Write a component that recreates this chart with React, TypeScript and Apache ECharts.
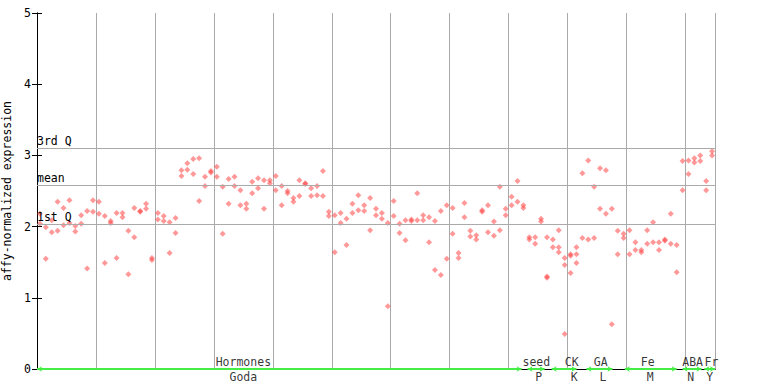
import React, { useEffect, useRef } from "react";
import * as echarts from "echarts";

// replicate values per sample column (115 columns)
const rep1 = [
  2.18, 1.55, 1.92, 2.35, 2.26, 2.37, 2.01, 2.16, 2.22, 2.37,
  2.35, 2.15, 2.08, 2.19, 2.19, 1.94, 2.26, 2.22, 2.32, 1.56,
  2.19, 2.15, 2.06, 2.12, 2.79, 2.89, 2.95, 2.96, 2.70, 2.78,
  2.84, 2.56, 2.67, 2.70, 2.51, 2.32, 2.63, 2.68, 2.65, 2.65,
  2.71, 2.57, 2.50, 2.40, 2.65, 2.61, 2.54, 2.57, 2.78, 2.21,
  2.16, 2.19, 2.11, 2.32, 2.44, 2.30, 2.40, 2.25, 2.19, 2.05,
  2.36, 2.04, 2.09, 2.10, 2.47, 2.16, 2.13, 2.08, 2.22, 2.30,
  2.26, 1.63, 2.33, 1.94, 1.88, 2.23, 2.30, 2.07, 2.56, 2.25,
  2.42, 2.64, 2.30, 1.85, 1.85, 2.11, 1.85, 1.82, 1.95, 1.56,
  1.61, 1.71, 2.75, 2.93, 2.56, 2.82, 2.79, 2.25, 1.94, 1.90,
  1.95, 1.78, 1.67, 1.95, 2.06, 1.78, 1.82, 2.18, 1.74, 2.92,
  2.93, 2.96, 3.00, 2.64, 3.06,
];
const rep2 = [
  2.04, 1.99, 2.09, 1.94, 2.02, 2.05, 1.93, 2.04, 1.41, 2.21,
  2.18, 1.49, 2.05, 1.56, 2.13, 1.33, 1.85, 2.21, 2.25, 1.53,
  2.10, 2.08, 1.63, 1.91, 2.71, 2.80, 2.74, 2.36, 2.57, 2.76,
  2.70, 1.90, 2.32, 2.57, 2.30, 2.25, 2.47, 2.54, 2.25, 2.61,
  2.51, 2.30, 2.47, 2.35, 2.43, 2.60, 2.43, 2.44, 2.43, 2.15,
  1.64, 2.05, 1.74, 2.19, 2.23, 2.22, 1.95, 2.16, 2.11, 0.88,
  2.15, 1.91, 1.81, 2.08, 2.09, 2.09, 1.78, 1.39, 1.32, 1.55,
  1.90, 1.56, 2.13, 1.86, 1.82, 2.21, 1.92, 1.87, 1.95, 2.16,
  2.30, 2.35, 2.26, 1.82, 1.76, 2.07, 1.30, 1.71, 1.71, 1.46,
  1.59, 1.61, 1.84, 1.82, 1.84, 2.25, 2.18, 0.63, 1.61, 1.84,
  1.61, 1.67, 1.64, 1.76, 1.78, 1.67, 1.80, 1.76, 1.36, 2.51,
  2.74, 2.90, 2.92, 2.51, 3.00,
];
// third replicates, only for a few columns
const rep3Columns = [86, 88, 89, 90, 91];
const rep3 = [1.28, 1.64, 0.49, 1.35, 1.49];

// reference lines
const refNames = ["3rd Q", "mean", "1st Q"];
const refValues = [3.1, 2.58, 2.04];

// y tick labels
const yTicks = [0, 1, 2, 3, 4, 5];

// experiment groups along the bottom
const groupNames = ["Hormones", "seed", "CK", "GA", "Fe", "ABA", "Fr"];
const groupSubNames = ["Goda", "P", "K", "L", "M", "N", "Y"];
const groupStart = [0, 83.2, 87.3, 93.2, 99.7, 109.5, 113.2];
const groupEnd = [82.2, 86.1, 91.5, 97.6, 108.5, 112.7, 115];
const groupLabelAt = [35, 84.7, 90.7, 95.6, 103.6, 111.2, 114.4];
const groupSubLabelAt = [35, 85.1, 91.1, 96, 104, 110.9, 114.1];

const FONT = "DejaVu Sans Mono";

export default function App() {
  const ref = useRef<HTMLDivElement>(null);
  useEffect(() => {
    if (!ref.current) return;
    const chart = echarts.init(ref.current, null, { renderer: "svg" });
    const points: number[][] = [];
    rep1.forEach((v, i) => points.push([i + 0.5, v]));
    rep2.forEach((v, i) => points.push([i + 0.5, v]));
    rep3.forEach((v, k) => points.push([rep3Columns[k] + 0.5, v]));

    const textStyle = { fontFamily: FONT, fontSize: 11.5, color: "#000" };

    chart.setOption({
      animation: false,
      grid: {
        left: 37,
        right: 53,
        top: 13,
        bottom: 15,
        containLabel: false,
        outerBoundsMode: "none",
      },
      xAxis: [
        {
          type: "value",
          min: 0,
          max: 115,
          interval: 10,
          position: "bottom",
          axisLine: { show: true, lineStyle: { color: "#000", width: 1 } },
          axisTick: { show: false },
          axisLabel: { show: false },
          splitLine: { show: true, lineStyle: { color: "#aaaaaa", width: 1 } },
        },
        {
          type: "value",
          min: 0,
          max: 115,
          position: "top",
          axisLine: { show: true, lineStyle: { color: "#000", width: 1 } },
          axisTick: { show: false },
          axisLabel: { show: false },
          splitLine: { show: false },
        },
      ],
      yAxis: [
        {
          type: "value",
          min: yTicks[0],
          max: yTicks[yTicks.length - 1],
          interval: 1,
          position: "left",
          name: "affy-normalized expression",
          nameLocation: "middle",
          nameGap: 20,
          nameTextStyle: textStyle,
          axisLine: { show: true, lineStyle: { color: "#000", width: 1 } },
          axisTick: { show: true, inside: true, length: 5, lineStyle: { color: "#000" } },
          axisLabel: { ...textStyle, margin: 6 },
          splitLine: { show: false },
        },
        {
          type: "value",
          min: yTicks[0],
          max: yTicks[yTicks.length - 1],
          interval: 1,
          position: "right",
          axisLine: { show: true, lineStyle: { color: "#000", width: 1 } },
          axisTick: { show: true, inside: true, length: 5, lineStyle: { color: "#000" } },
          axisLabel: { show: false },
          splitLine: { show: false },
        },
      ],
      series: [
        {
          type: "scatter",
          name: "expression",
          symbol: "diamond",
          symbolSize: 6,
          itemStyle: { color: "rgba(255,60,60,0.65)" },
          data: points,
          z: 3,
          markLine: {
            silent: true,
            symbol: "none",
            lineStyle: { color: "#aaaaaa", width: 1, type: "solid" },
            label: {
              show: true,
              position: "insideStartTop",
              formatter: "{b}",
              distance: [0, 1],
              ...textStyle,
            },
            data: refNames.map((n, i) => ({ name: n, yAxis: refValues[i] })),
          },
        },
        {
          type: "scatter",
          name: "groups",
          symbolSize: 0,
          clip: false,
          silent: true,
          z: 5,
          data: groupLabelAt.map((c, i) => ({ value: [c, 0], name: groupNames[i] })),
          label: {
            show: true,
            position: "top",
            distance: 1,
            formatter: "{b}",
            ...textStyle,
          },
          markLine: {
            silent: true,
            symbol: ["arrow", "arrow"],
            symbolSize: [4, 5],
            lineStyle: { color: "#44ee44", width: 2, type: "solid" },
            label: { show: false },
            data: groupStart.map((s, i) => [
              { coord: [s, 0] },
              { coord: [groupEnd[i], 0] },
            ]),
          },
        },
        {
          type: "scatter",
          name: "subgroups",
          symbolSize: 0,
          clip: false,
          silent: true,
          z: 5,
          data: groupSubLabelAt.map((c, i) => ({ value: [c, 0], name: groupSubNames[i] })),
          label: {
            show: true,
            position: "bottom",
            distance: 2,
            formatter: "{b}",
            ...textStyle,
          },
        },
      ],
    });
    return () => chart.dispose();
  }, []);
  return (
    <div
      ref={ref}
      style={{ position: "absolute", left: 0, top: 0, width: 768, height: 384, background: "#fff" }}
    />
  );
}
